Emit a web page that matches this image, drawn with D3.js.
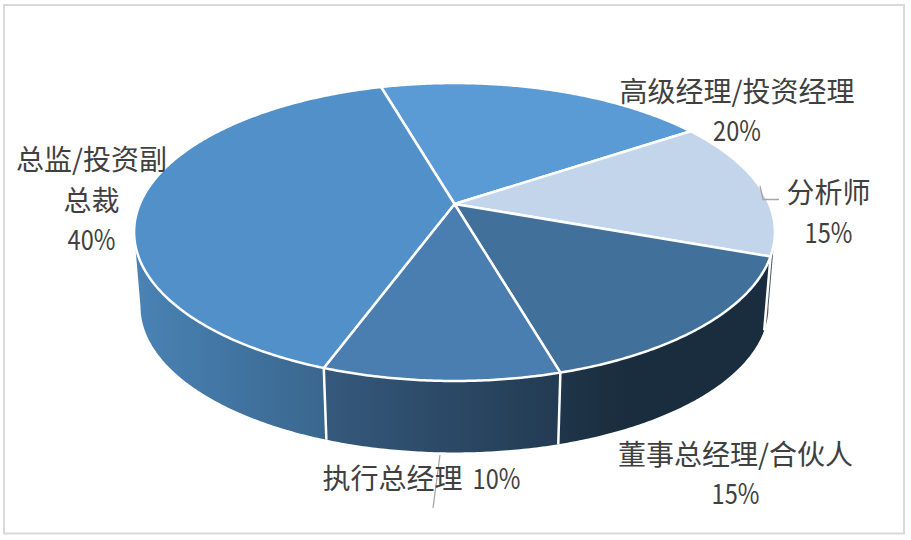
<!DOCTYPE html>
<html>
<head>
<meta charset="utf-8">
<script src="https://cdn.jsdelivr.net/npm/d3@7"></script>
<style>
  html, body { margin: 0; padding: 0; background: #fff; }
  svg { display: block; }
</style>
</head>
<body>
<script>
// ---- data ----
const categories = ["高级经理/投资经理", "分析师", "董事总经理/合伙人", "执行总经理", "总监/投资副总裁"];
const shares = [20, 15, 15, 10, 40];
const sliceColors = ["#5b9bd5", "#c3d5ea", "#41709b", "#4a7eb0", "#5190c8"];

// ---- label layout (wrapped lines, anchor centre, line centres) ----
const labelLines = [["高级经理/投资经理"], ["分析师"], ["董事总经理/合伙人"], ["执行总经理"], ["总监/投资副", "总裁"]];
const labelLayout = [
  { x: 737, ys: [89.5, 129] },
  { x: 828.5, ys: [190.5, 231] },
  { x: 735.5, ys: [453, 491.5] },
  { x: 421.5, ys: [476.5], inline: true },
  { x: 91.5, ys: [158, 199, 237.5] }
];
const leaders = [
  [[760, 186], [763, 199.5], [779, 199.5]],
  [[440, 455], [433, 508]]
];

const W = 911, H = 540;
const svg = d3.select("body").append("svg").attr("width", W).attr("height", H);

svg.append("rect")
  .attr("x", 4).attr("y", 5).attr("width", 900).attr("height", 528.5)
  .attr("fill", "#fff").attr("stroke", "#d9d9d9").attr("stroke-width", 2);

// ---- tilted disc projection (top face level 0, bottom face level 1) ----
const cx = 454.5, cy = 204, A = 314.7, B = 143.7, k = 0.188, depth = 75, shrink = 0.98;
function proj(phi, level) {
  const u = Math.sin(phi), v = -Math.cos(phi), w = 1 - k * v, s = level ? shrink : 1;
  return [cx + s * A * u / w, cy + level * depth + s * B * v / w];
}
const rad = d3.scaleLinear().domain([0, 360]).range([0, 2 * Math.PI]);
const start = rad(-16);
const pie = d3.pie().sort(null).value(d => d).startAngle(start).endAngle(start + 2 * Math.PI);
const arcs = pie(shares);
const total = d3.sum(shares);
const pct = d3.format(".0%");

function arcPts(a, b, level) {
  const n = Math.max(2, Math.ceil(Math.abs(b - a) / rad(0.5)));
  return d3.range(n + 1).map(i => proj(a + (b - a) * i / n, level));
}
const line = d3.line();

// side wall is visible between the two silhouette angles
const sil1 = Math.acos(-k), sil2 = 2 * Math.PI - sil1;

function shade(c, f) {
  const r = d3.rgb(c);
  return d3.rgb(r.r * f, r.g * f, r.b * f).formatHex();
}

const defs = svg.append("defs");
sliceColors.forEach((c, i) => {
  const g = defs.append("linearGradient").attr("id", "side" + i)
    .attr("gradientUnits", "userSpaceOnUse")
    .attr("x1", 140).attr("y1", 0).attr("x2", 626).attr("y2", 0);
  g.append("stop").attr("offset", 0).attr("stop-color", shade(c, 0.9));
  g.append("stop").attr("offset", 1).attr("stop-color", shade(c, 0.4));
});

// walls
const walls = svg.append("g");
arcs.forEach((d, i) => {
  const a = Math.max(d.startAngle, sil1), b = Math.min(d.endAngle, sil2);
  if (b <= a) return;
  const pts = arcPts(a, b, 0).concat(arcPts(b, a, 1));
  walls.append("path").attr("d", line(pts) + "Z").attr("fill", `url(#side${i})`);
});
// white seams between wall segments
arcs.forEach(d => {
  const a = d.startAngle;
  if (a > sil1 && a < sil2) {
    walls.append("path").attr("d", line([proj(a, 0), proj(a, 1)]))
      .attr("stroke", "#fff").attr("stroke-width", 2.5).attr("fill", "none");
  }
});

// top faces
const tops = svg.append("g");
arcs.forEach((d, i) => {
  const pts = [[cx, cy]].concat(arcPts(d.startAngle, d.endAngle, 0));
  tops.append("path").attr("d", line(pts) + "Z")
    .attr("fill", sliceColors[i])
    .attr("stroke", "#fff").attr("stroke-width", 2.5).attr("stroke-linejoin", "round");
});

// leader lines
leaders.forEach(p => {
  svg.append("path").attr("d", line(p)).attr("fill", "none")
    .attr("stroke", "#a6a6a6").attr("stroke-width", 1.3);
});

// data labels
const fontFam = "'Noto Sans CJK SC', 'Noto Sans', sans-serif";
const narrow = 0.84;
const labels = svg.append("g").attr("fill", "#404040")
  .style("font-family", fontFam).style("font-size", "28px");

function addText(x, y, str, anchor) {
  return labels.append("text").attr("x", x).attr("y", y)
    .attr("text-anchor", anchor).attr("dominant-baseline", "central").text(str);
}
function condense(t) {
  const w = t.node().getComputedTextLength();
  t.attr("textLength", w * narrow).attr("lengthAdjust", "spacingAndGlyphs");
  return w * narrow;
}

arcs.forEach((d, i) => {
  const L = labelLayout[i];
  const p = pct(d.value / total);
  if (L.inline) {
    const t1 = addText(0, L.ys[0], labelLines[i][0], "start");
    const w1 = t1.node().getComputedTextLength();
    const t2 = addText(0, L.ys[0], p, "start");
    const w2 = condense(t2);
    const gap = 10;
    const x0 = L.x - (w1 + gap + w2) / 2;
    t1.attr("x", x0);
    t2.attr("x", x0 + w1 + gap);
  } else {
    labelLines[i].forEach((s, j) => addText(L.x, L.ys[j], s, "middle"));
    const t = addText(L.x, L.ys[labelLines[i].length], p, "middle");
    condense(t);
  }
});
</script>
</body>
</html>
